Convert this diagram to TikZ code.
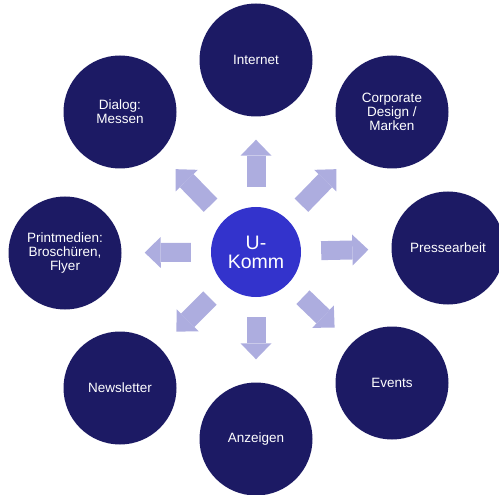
\documentclass[tikz,border=0pt]{standalone}
\usepackage{fontspec}
\setmainfont{Liberation Sans}
\usetikzlibrary{positioning,arrows.meta}
\definecolor{navy}{RGB}{28,26,100}
\definecolor{hubblue}{RGB}{51,51,204}
\definecolor{spokeblue}{RGB}{173,173,223}

\begin{document}
\begin{tikzpicture}[x = 1pt, y = -1pt,
  bubble/.style = {circle, fill=navy, text=white, minimum size=113pt, inner sep=0pt, align=center, font=\fontsize{13.5}{14}\selectfont},
  hub/.style = {circle, fill=hubblue, text=white, minimum size=90pt, inner sep=0pt, align=center, font=\fontsize{19.5}{19}\selectfont},
  spoke/.style = {draw=spokeblue, line width=19pt, shorten <=20pt, shorten >=23pt, -{Triangle[width=31pt, length=16pt, line width=0pt]}}]
\useasboundingbox (0, 0) rectangle (499, 495);

\node[hub] (komm) at (256, 252) {U-\\Komm};

\node[bubble] (internet) at (256, 60) {Internet};
\node[bubble] (corporate) at (392, 112) {Corporate\\Design /\\Marken};
\node[bubble] (presse) at (448, 248) {Pressearbeit};
\node[bubble] (events) at (392, 383) {Events};
\node[bubble] (anzeigen) at (256, 439) {Anzeigen};
\node[bubble] (newsletter) at (120, 388) {Newsletter};
\node[bubble] (print) at (65, 253) {Printmedien:\\Broschüren,\\Flyer};
\node[bubble] (dialog) at (120, 112) {Dialog:\\Messen};

\draw[spoke] (komm) -- (internet);
\draw[spoke] (komm) -- (corporate);
\draw[spoke] (komm) -- (presse);
\draw[spoke] (komm) -- (events);
\draw[spoke] (komm) -- (anzeigen);
\draw[spoke] (komm) -- (newsletter);
\draw[spoke] (komm) -- (print);
\draw[spoke] (komm) -- (dialog);
\end{tikzpicture}
\end{document}
